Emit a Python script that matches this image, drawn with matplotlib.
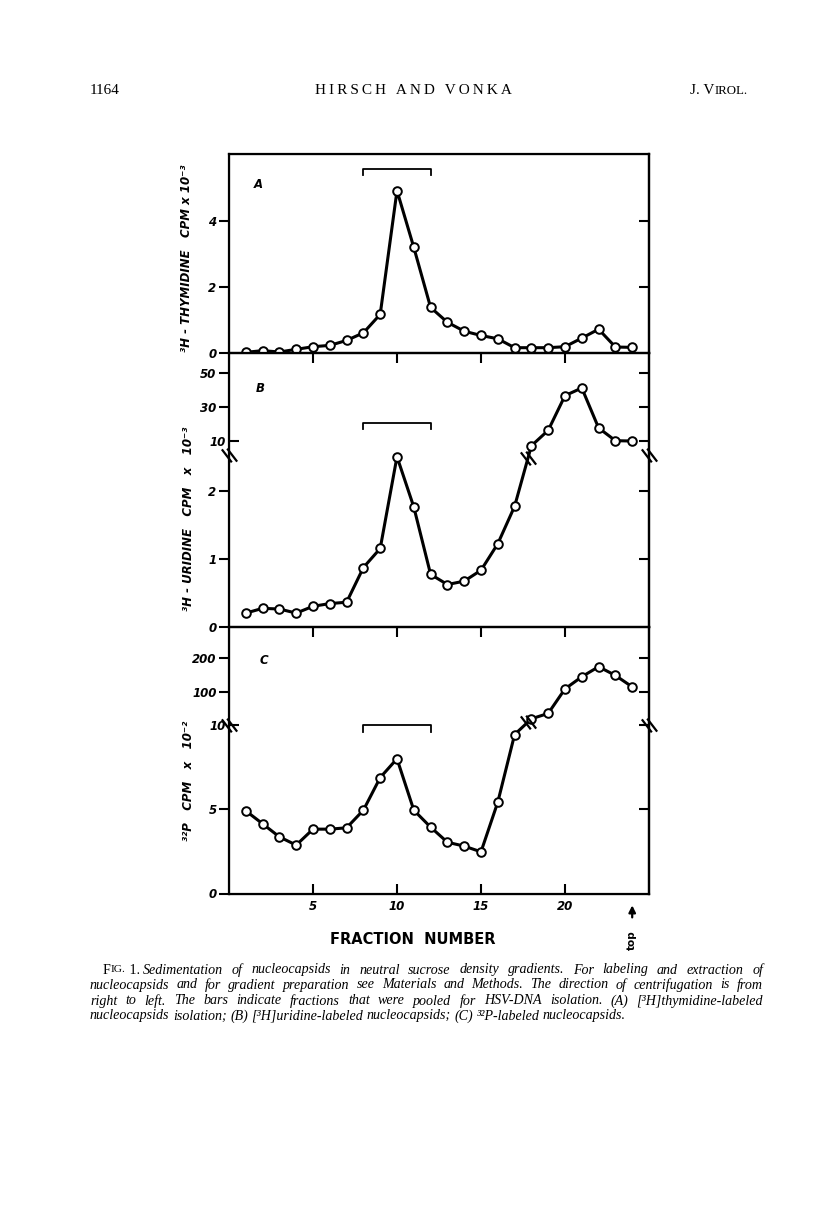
import numpy as np
import matplotlib
matplotlib.use('Agg')
import matplotlib.pyplot as plt
from matplotlib.path import Path

# fraction number (bottom -> top of gradient)
fractions = np.arange(1, 25)

# (A) 3H-thymidine, CPM x 10^-3
thymidine = [0.03, 0.08, 0.04, 0.12, 0.20, 0.24, 0.39, 0.62, 1.18, 4.93, 3.21, 1.39,
             0.94, 0.67, 0.54, 0.44, 0.17, 0.17, 0.17, 0.20, 0.46, 0.73, 0.19, 0.18]
# (B) 3H-uridine, CPM x 10^-3 (broken axis above ~2.5)
uridine = [0.20, 0.27, 0.26, 0.20, 0.30, 0.34, 0.36, 0.87, 1.15, 2.50, 1.76, 0.77,
           0.62, 0.67, 0.83, 1.22, 1.77, 7.0, 16.1, 36.5, 41.0, 17.5, 10.0, 9.8]
# (C) 32P, CPM x 10^-2 (broken axis above 10)
phosphorus = [4.92, 4.15, 3.37, 2.88, 3.83, 3.83, 3.91, 4.96, 6.90, 8.02, 4.96, 3.95,
              3.05, 2.82, 2.48, 5.44, 9.46, 20, 36, 109, 145, 175, 149, 115]

pooled = [8, 12]  # fractions pooled for HSV-DNA isolation

W, H = 816, 1207
fig = plt.figure(figsize=(W / 100, H / 100), dpi=100)
fig.patch.set_facecolor('white')


def box(top, bottom, left=229, right=649):
    return [left / W, 1 - bottom / H, (right - left) / W, (bottom - top) / H]


def piecewise(xp, fp):
    # broken axis: two linear pieces joined by a short steep link
    return (lambda v: np.interp(v, xp, fp), lambda p: np.interp(p, fp, xp))


scale_b = piecewise([0, 2.5, 4, 100], [0, 170, 175.8, 339])
scale_c = piecewise([0, 10, 12, 400], [0, 168, 172.0, 302.4])

axA = fig.add_axes(box(154, 353.3))
axB = fig.add_axes(box(353.3, 626.7))
axC = fig.add_axes(box(626.7, 893.5))

axB.set_yscale('function', functions=scale_b)
axC.set_yscale('function', functions=scale_c)

axA.set_ylim(0, 6.04)
axB.set_ylim(0, 61.4)
axC.set_ylim(0, 294)

tick_font = dict(fontsize=8.5, fontstyle='italic', fontweight='bold')

panels = [
    (axA, thymidine, [0, 2, 4], ['0', '2', '4'], [], [2, 4], (5.58, 5.40), 'A', 0.069, 0.845),
    (axB, uridine, [0, 1, 2, 30, 50], ['0', '1', '2', '30', '50'], [10], [1, 2, 10, 30, 50], (20.4, 16.9), 'B', 0.074, 0.873),
    (axC, phosphorus, [0, 5, 100, 200], ['0', '5', '100', '200'], [10], [5, 10, 100, 200], (10.0, 9.6), 'C', 0.083, 0.875),
]

brk = Path([(-1.0, 0.8), (0.3, -0.9), (-0.3, 0.9), (1.0, -0.8)],
           [Path.MOVETO, Path.LINETO, Path.MOVETO, Path.LINETO])

for ax, vals, yt, ytl, yin, yright, (btop, btip), letter, lx, ly in panels:
    ax.plot(fractions, vals, '-o', color='black', lw=2.2, ms=6.2, mfc='white',
            mec='black', mew=1.4, clip_on=False, zorder=3)
    ax.plot([pooled[0], pooled[0], pooled[1], pooled[1]], [btip, btop, btop, btip],
            color='black', lw=1.3)
    ax.set_xlim(0, 25)
    ax.set_xticks([5, 10, 15, 20])
    ax.tick_params(axis='x', direction='in', length=7, width=1.5, top=(ax is not axA),
                   bottom=(ax is axC), labelbottom=(ax is axC), pad=5)
    ax.set_yticks(yt)
    ax.set_yticklabels(ytl, **tick_font)
    ax.tick_params(axis='y', which='major', direction='out', length=7, width=1.5, pad=2)
    if yin:
        ax.set_yticks(yin, labels=[str(v) for v in yin], minor=True, **tick_font)
        ax.tick_params(axis='y', which='minor', direction='in', length=7, width=1.5, pad=2)
    for s in ax.spines.values():
        s.set_linewidth(1.6)
    # inward ticks on the right side
    axr = ax.twinx()
    if ax is axB:
        axr.set_yscale('function', functions=scale_b)
    if ax is axC:
        axr.set_yscale('function', functions=scale_c)
    axr.set_ylim(ax.get_ylim())
    axr.set_yticks(yright)
    axr.tick_params(axis='y', direction='in', length=7, width=1.5, labelright=False)
    axr.spines['right'].set_linewidth(1.6)
    ax.text(lx, ly, letter, transform=ax.transAxes, fontsize=8.5, fontstyle='italic',
            fontweight='bold', ha='center', va='center')

for lab in axC.get_xticklabels():
    lab.set_fontsize(8.5)
    lab.set_fontstyle('italic')
    lab.set_fontweight('bold')

# break marks on the spines and on the curves
for ax, fwd, inv, yb, i0 in [(axB, *scale_b, 2.9, 16), (axC, *scale_c, 10.0, 16)]:
    tr = ax.get_yaxis_transform()
    for xs in (0, 1):
        ax.plot([xs], [yb], marker=brk, ms=11, mec='black', mfc='none', mew=1.6,
                transform=tr, clip_on=False, zorder=5)
    vals = uridine if ax is axB else phosphorus
    t = 0.8
    ym = inv(fwd(vals[i0]) + t * (fwd(vals[i0 + 1]) - fwd(vals[i0])))
    ax.plot([fractions[i0] + t], [ym], marker=brk, ms=11, mec='black', mfc='none',
            mew=1.6, clip_on=False, zorder=5)

# y-axis titles
lab_kw = dict(rotation=90, ha='center', va='center', fontsize=8.5, fontstyle='italic',
              fontweight='bold')
fig.text(186 / W, 1 - 258 / H, '³H - THYMIDINE   CPM x 10⁻³', **lab_kw)
fig.text(188 / W, 1 - 519 / H, '³H - URIDINE   CPM   x   10⁻³', **lab_kw)
fig.text(188 / W, 1 - 781 / H, '³²P   CPM   x   10⁻²', **lab_kw)

fig.text(413 / W, 1 - 940 / H, 'FRACTION  NUMBER', ha='center', va='center',
         fontsize=10.5, fontweight='bold')

# "top" arrow below the last fraction
axC.annotate('', xy=(24, -0.034), xytext=(24, -0.10),
             xycoords=('data', 'axes fraction'), textcoords=('data', 'axes fraction'),
             arrowprops=dict(arrowstyle='-|>', color='black', lw=1.6, mutation_scale=10))
axC.text(24, -0.175, 'top', transform=axC.get_xaxis_transform(), rotation=90,
         ha='center', va='center', fontsize=7.5, fontweight='bold')

renderer = fig.canvas.get_renderer()


def width_of(t):
    return t.get_window_extent(renderer).width


# page header
serif = 'Liberation Serif'
fig.text(90 / W, 1 - 91 / H, '1164', family=serif, fontsize=11, va='center')
fig.text(413 / W, 1 - 91 / H, '\u2009'.join('HIRSCH AND VONKA'), family=serif,
         fontsize=11, ha='center', va='center')
x = 690
for piece, size in [('J. V', 11), ('IROL.', 9.3)]:
    t = fig.text(x / W, 1 - 91 / H, piece, family=serif, fontsize=size, va='center')
    x += width_of(t)

# caption, justified to the text block
cap_kw = dict(family=serif, fontsize=10.1, va='center')
caption = [
    (103, 970, True, 'Sedimentation of nucleocapsids in neutral sucrose density gradients. For labeling and extraction of'),
    (90, 985, True, 'nucleocapsids and for gradient preparation see Materials and Methods. The direction of centrifugation is from'),
    (90, 1001, True, 'right to left. The bars indicate fractions that were pooled for HSV-DNA isolation. (A) [³H]thymidine-labeled'),
    (90, 1016, False, 'nucleocapsids isolation; (B) [³H]uridine-labeled nucleocapsids; (C) ³²P-labeled nucleocapsids.'),
]
right_edge = 763
space = width_of(fig.text(0, 0, 'a a', fontstyle='italic', alpha=0, **cap_kw)) - \
    width_of(fig.text(0, 0, 'aa', fontstyle='italic', alpha=0, **cap_kw))

for i, (x0, y, justify, line) in enumerate(caption):
    x = x0
    yy = 1 - y / H
    if i == 0:
        # small-caps "FIG. 1." lead-in
        for piece, size in [('F', 10.1), ('IG.', 8.2), (' 1.', 10.1)]:
            t = fig.text(x / W, yy, piece, family=serif, fontsize=size, va='center')
            x += width_of(t)
        x += space
    words = line.split(' ')
    texts = [fig.text(0, yy, w_, fontstyle='italic', **cap_kw) for w_ in words]
    widths = [width_of(t) for t in texts]
    if justify and len(words) > 1:
        gap = (right_edge - x - sum(widths)) / (len(words) - 1)
    else:
        gap = space
    for t, w_ in zip(texts, widths):
        t.set_x(x / W)
        x += w_ + gap

fig.savefig('out.png', dpi=100)
